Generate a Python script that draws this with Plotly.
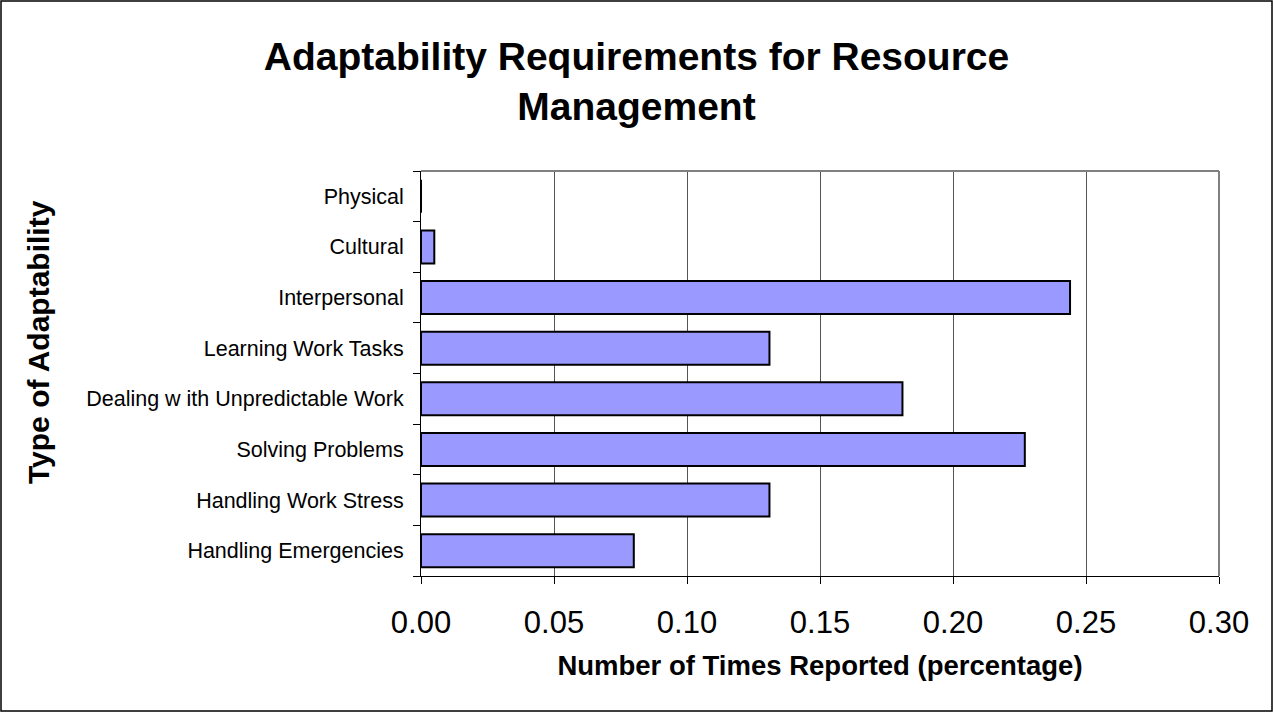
"""Horizontal bar chart: adaptability requirements for resource management."""

import plotly.graph_objects as go

# ── Data ──────────────────────────────────────────────────────────────────
categories = [
    "Handling Emergencies",
    "Handling Work Stress",
    "Solving Problems",
    "Dealing w ith Unpredictable Work",
    "Learning Work Tasks",
    "Interpersonal",
    "Cultural",
    "Physical",
]
share_reported = [0.080, 0.131, 0.227, 0.181, 0.131, 0.244, 0.005, 0.0]
x_ticks = [0.00, 0.05, 0.10, 0.15, 0.20, 0.25, 0.30]

FONT = "Liberation Sans, Arial, sans-serif"
W, H = 1273, 712
M = dict(l=421, r=54, t=171, b=136)
PW, PH = W - M["l"] - M["r"], H - M["t"] - M["b"]

fig = go.Figure(go.Bar(
    x=share_reported, y=categories, orientation="h",
    marker=dict(color="#9999ff", line=dict(color="#000000", width=2)),
    width=0.65,
    hoverinfo="x+y",
))

fig.update_layout(
    width=W, height=H, margin=M,
    paper_bgcolor="white", plot_bgcolor="white",
    font=dict(family=FONT, color="black"),
    showlegend=False,
    title=dict(
        text="<b>Adaptability Requirements for Resource<br>Management</b>",
        x=0.5, xanchor="center", y=0.902, yanchor="top",
        font=dict(size=39, family=FONT, color="black"),
    ),
    xaxis=dict(
        range=[0, 0.30], tickvals=x_ticks, tickformat=".2f",
        showgrid=True, gridcolor="#555555", gridwidth=1,
        showline=True, linecolor="#000000", linewidth=1,
        ticks="outside", ticklen=7, tickcolor="#000000",
        tickfont=dict(size=31, family=FONT),
        ticklabelstandoff=12,
        zeroline=False, mirror=False,
        title=dict(text="<b>Number of Times Reported (percentage)</b>",
                   font=dict(size=27.5, family=FONT), standoff=16),
    ),
    yaxis=dict(
        type="category", categoryorder="array", categoryarray=categories,
        showline=True, linecolor="#000000", linewidth=1,
        ticks="outside", ticklen=7, tickcolor="#000000", tickson="boundaries",
        tickfont=dict(size=21.5, family=FONT),
        ticklabelstandoff=12,
        showgrid=False,
    ),
    annotations=[
        # y-axis title, placed like the original (slightly above plot centre)
        dict(text="<b>Type of Adaptability</b>", textangle=-90,
             xref="paper", yref="paper",
             x=(38 - M["l"]) / PW, y=(H - M["b"] - 342) / PH,
             xanchor="center", yanchor="middle", showarrow=False,
             font=dict(size=30, family=FONT, color="black")),
    ],
    shapes=[
        # grey frame on top and right of plot area
        dict(type="line", xref="paper", yref="paper", x0=0, x1=1, y0=1, y1=1,
             line=dict(color="#808080", width=2)),
        dict(type="line", xref="paper", yref="paper", x0=1, x1=1, y0=0, y1=1,
             line=dict(color="#808080", width=2)),
        # outer chart border
        dict(type="rect", xref="paper", yref="paper",
             x0=-(M["l"] - 1) / PW, x1=1 + (M["r"] - 1) / PW,
             y0=-(M["b"] - 1) / PH, y1=1 + (M["t"] - 1) / PH,
             line=dict(color="#000000", width=1.5)),
    ],
)

# drop the default page margin so the figure fills the window
fig.write_html("out.html", config={"displayModeBar": False},
               post_script="document.body.style.margin='0';")
